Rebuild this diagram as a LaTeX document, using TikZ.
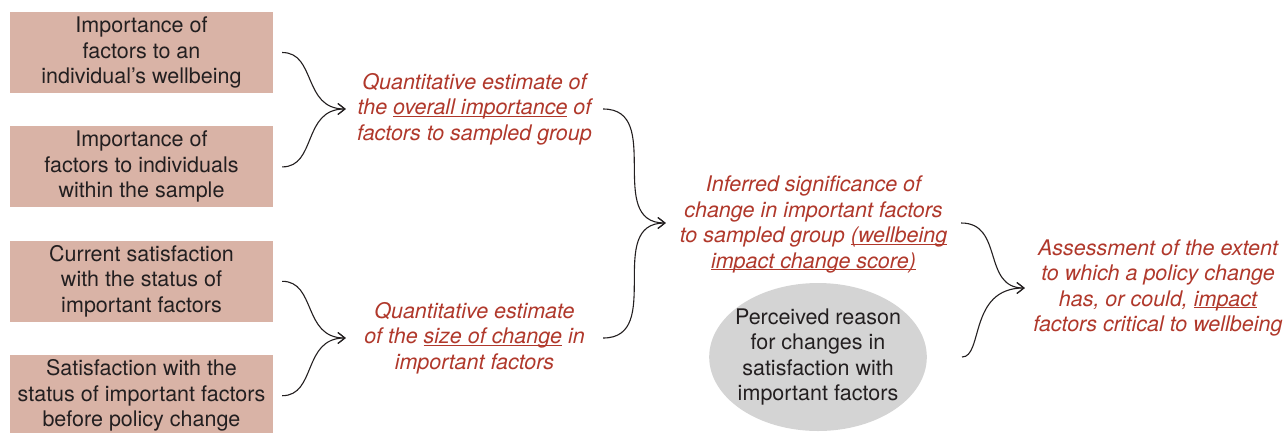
\documentclass[tikz,border=0pt]{standalone}
\usepackage{fontspec}
\setmainfont{TeX Gyre Heros}
\usetikzlibrary{positioning,arrows.meta,shapes.geometric}
\definecolor{boxfill}{HTML}{D9B3A6}
\definecolor{estred}{HTML}{B0382B}
\definecolor{reasongray}{HTML}{D4D4D4}
\definecolor{ink}{HTML}{231F20}
\newcommand{\keyterm}[1]{\underline{\smash{#1}}}

\begin{document}
\begin{tikzpicture}[x=1pt, y=-1pt,
    inputbox/.style={rectangle, fill=boxfill, text=ink, minimum width=263pt, minimum height=81pt, inner sep=0pt, align=center, font=\fontsize{21.5}{25.5}\selectfont},
    estimate/.style={text=estred, inner sep=0pt, align=center, font=\fontsize{21.5}{25.5}\selectfont\itshape},
    reason/.style={ellipse, fill=reasongray, text=ink, minimum width=216pt, minimum height=148pt, inner xsep=-6pt, inner ysep=0pt, align=center, font=\fontsize{21.5}{25.5}\selectfont},
    brace/.style={-{Straight Barb[length=7pt,width=11pt]}, draw=ink, line width=1.1pt, out=0, in=180, looseness=1.2}
    ]
    \useasboundingbox (0,0) rectangle (1285,432);

        %Nodes
        \node[inputbox] (imp1) at (141.5,52.5)
            {Importance of\\factors to an\\individual’s wellbeing};
        \node[inputbox] (imp2) [below=33pt of imp1]
            {Importance of\\factors to individuals\\within the sample};
        \node[inputbox] (sat1) [below=33pt of imp2]
            {Current satisfaction\\with the status of\\important factors};
        \node[inputbox] (sat2) [below=33pt of sat1]
            {Satisfaction with the\\status of important factors\\before policy change};

        \node[estimate, minimum width=257pt] (overall) at (474.5,109)
            {Quantitative estimate of\\the \keyterm{overall importance} of\\factors to sampled group};
        \node[estimate, minimum width=257pt] (size) at (474.5,338)
            {Quantitative estimate\\of the \keyterm{size of change} in\\important factors};
        \node[estimate, minimum width=295pt] (signif) at (813.5,223)
            {Inferred significance of\\change in important factors\\to sampled group \keyterm{(wellbeing}\\\keyterm{impact change score)}};
        \node[estimate, minimum width=266pt] (assess) at (1158,288)
            {Assessment of the extent\\to which a policy change\\has, or could, \keyterm{impact}\\factors critical to wellbeing};

        \node[reason] (reason) at (818,357)
            {Perceived reason\\for changes in\\satisfaction with\\important factors};

        %Lines
        \draw[brace, shorten <=9pt] (imp1.east) to (overall.west);
        \draw[brace, shorten <=9pt] (imp2.east) to (overall.west);
        \draw[brace, shorten <=9pt] (sat1.east) to (size.west);
        \draw[brace, shorten <=9pt] (sat2.east) to (size.west);
        \draw[brace] (overall.east) to (signif.west);
        \draw[brace] (size.east) to (signif.west);
        \draw[brace] (signif.east) to (assess.west);
        \draw[brace, shorten <=35pt] (reason.east) to (assess.west);
    \end{tikzpicture}
\end{document}
